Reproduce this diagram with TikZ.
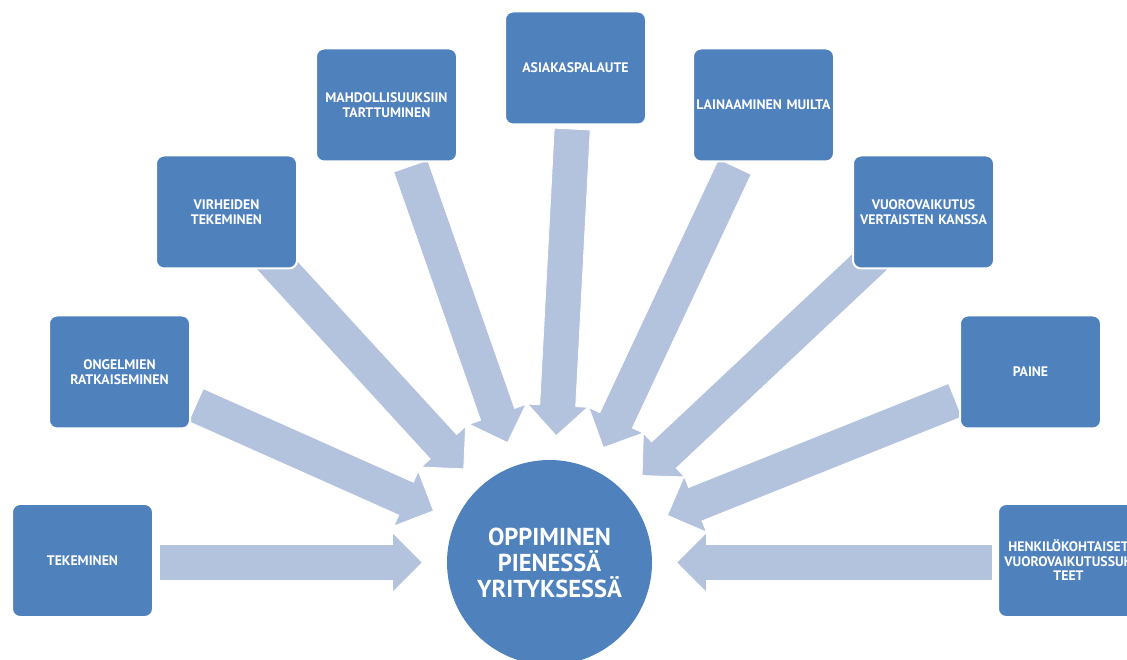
\documentclass[tikz,border=0pt]{standalone}
\usepackage{fontspec}
\setmainfont{PT Sans}
\usetikzlibrary{calc}

\definecolor{boxblue}{RGB}{79,129,189}
\definecolor{arrowblue}{RGB}{179,194,221}

\tikzset{
    topic/.style={draw=white, line width=2pt, fill=boxblue, rounded corners=8pt,
        minimum width=141pt, minimum height=113pt, text width=137pt, inner sep=0pt,
        align=center, text=white, font=\fontsize{13.8}{14.5}\selectfont\bfseries},
    hub/.style={circle, fill=boxblue, minimum size=205pt, inner sep=0pt,
        align=center, text=white, font=\fontsize{24.5}{26}\selectfont\bfseries},
    fatarrow/.style={fill=arrowblue, draw=white, line width=0.8pt, line join=miter}
}

% block arrow from tail #1 to tip #2
\newcommand{\convarrow}[2]{
    \coordinate (base) at ($(#2)!30pt!(#1)$);
    \filldraw[fatarrow] ($(#1)!18pt!90:(#2)$) -- ($(base)!18pt!-90:(#1)$)
        -- ($(base)!30pt!-90:(#1)$) -- (#2) -- ($(base)!30pt!90:(#1)$)
        -- ($(base)!18pt!90:(#1)$) -- ($(#1)!18pt!-90:(#2)$) -- cycle;
}

\begin{document}
\begin{tikzpicture}[x=1pt,y=1pt]
    \useasboundingbox (0,0) rectangle (1127,659);
    \clip (0,0) rectangle (1127,659);

    \node[hub] (hub) at (549.5,96.5) {OPPIMINEN\\PIENESSÄ\\YRITYKSESSÄ};

    \foreach \ang/\len [count=\i] in {180/390, 156/387, 132.5/420, 109.3/420,
            87/434, 64.9/437, 43.2/450, 21.8/437, 0/443} {
        \coordinate (tail\i) at ($(hub.center)+(\ang:\len pt)$);
        \coordinate (tip\i) at ($(hub.center)+(\ang:127pt)$);
        \convarrow{tail\i}{tip\i}
    }

    \node[topic] (doing) at (82.5,98.5) {TEKEMINEN};
    \node[topic] (problems) at (119.5,287) {ONGELMIEN\\RATKAISEMINEN};
    \node[topic] (mistakes) at (226.5,447) {VIRHEIDEN\\TEKEMINEN};
    \node[topic] (chances) at (386.5,554) {MAHDOLLISUUKSIIN\\TARTTUMINEN};
    \node[topic] (feedback) at (575.5,591) {ASIAKASPALAUTE};
    \node[topic] (borrowing) at (763.5,554) {LAINAAMINEN MUILTA};
    \node[topic] (peers) at (923.5,447) {VUOROVAIKUTUS\\VERTAISTEN KANSSA};
    \node[topic] (pressure) at (1030.5,287) {PAINE};
    \node[topic] (relations) at (1068.5,98.5) {HENKILÖKOHTAISET\\VUOROVAIKUTUSSUH\\TEET};
\end{tikzpicture}
\end{document}
